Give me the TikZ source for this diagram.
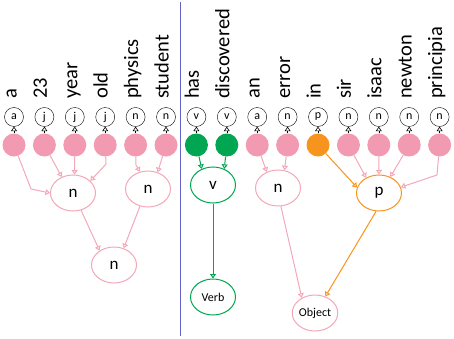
\documentclass[tikz,border=0pt]{standalone}
\usepackage{fontspec}
\setmainfont{Carlito}
\usetikzlibrary{shapes.geometric, arrows.meta}
\definecolor{pkFill}{HTML}{F29AB2}
\definecolor{pkLine}{HTML}{F4A7B9}
\definecolor{gnTree}{HTML}{00A651}
\definecolor{orTree}{HTML}{F7941D}
\definecolor{sepBlue}{HTML}{6464C8}

\begin{document}
\begin{tikzpicture}[x=1pt,y=-1pt,
    tip/.style={-{Triangle[open,length=4.5pt,width=6pt]}},
    pk/.style={tip,draw=pkLine,line width=1pt},
    gn/.style={tip,draw=gnTree,line width=1pt},
    or/.style={tip,draw=orTree,line width=1pt},
    tag/.style={circle,draw,inner sep=0pt,minimum size=19pt,
    font=\fontsize{12}{13}\selectfont},
    leaf/.style={circle,inner sep=0pt,minimum size=23pt},
    phrase/.style={ellipse,draw,line width=1pt,fill=white,inner sep=0pt,
    minimum width=45pt,minimum height=36pt,font=\fontsize{17}{18}\selectfont},
    word/.style={rotate=90,anchor=base west,inner sep=0pt,
    font=\fontsize{20.5}{24}\selectfont}]
    \useasboundingbox (0,0) rectangle (454,339);
    \draw[sepBlue,line width=1pt] (180,2) -- (180,336);
    % words, tags and leaves
    \foreach \w/\t/\c [count=\i from 0] in {a/a/pkFill,23/j/pkFill,
        year/j/pkFill,old/j/pkFill,physics/n/pkFill,student/n/pkFill,
        has/v/gnTree,discovered/v/gnTree,an/a/pkFill,error/n/pkFill,
        in/p/orTree,sir/n/pkFill,isaac/n/pkFill,newton/n/pkFill,
        principia/n/pkFill}{
        \node[word](w\i)at(16.5+30.4*\i,99){\w};
        \node[tag](t\i)at(14+30.4*\i,117){\t};
        \node[leaf,fill=\c](l\i)at(14+30.4*\i,145){};
        \draw[tip,line width=0.6pt](l\i)--(t\i);
    }
    % phrases
    \node[phrase,draw=pkLine](n1)at(73,193){n};
    \node[phrase,draw=pkLine](n2)at(148,189){n};
    \node[phrase,draw=pkLine](n3)at(114,265){n};
    \node[phrase,draw=gnTree](v)at(213,185){v};
    \node[phrase,draw=gnTree,font=\fontsize{12}{14}\selectfont](verb)at(213,297){Verb};
    \node[phrase,draw=pkLine](n4)at(278,188){n};
    \node[phrase,draw=orTree](p)at(379,193){p};
    \node[phrase,draw=pkLine,font=\fontsize{12}{14}\selectfont](obj)at(315,313){Object};
    \coordinate(ka)at(31,189);
    \coordinate(ko)at(106,164);
    \coordinate(kp)at(136,165);
    \coordinate(kr)at(437,175);
    % edges
    \draw[pk](l0)--(ka)--(n1.west);
    \draw[pk](l1)--(n1.125);
    \draw[pk](l2)--(n1.85);
    \draw[pk](l3)--(ko)--(n1.35);
    \draw[pk](l4)--(kp)--(n2.115);
    \draw[pk](l5)--(n2.60);
    \draw[gn](l6)--(v.125);
    \draw[gn](l7)--(v.55);
    \draw[pk](l8)--(n4.125);
    \draw[pk](l9)--(n4.70);
    \draw[or](l10)--(p.166);
    \draw[pk](l11)--(p.130);
    \draw[pk](l12)--(p.90);
    \draw[pk](l13)--(p.55);
    \draw[pk](l14)--(kr)--(p.15);
    \draw[pk](n1.-65)--(n3.135);
    \draw[pk](n2.-115)--(n3.60);
    \draw[gn](v)--(verb);
    \draw[pk](n4.-81)--(obj.131);
    \draw[or](p.-99)--(obj.58);
\end{tikzpicture}
\end{document}
